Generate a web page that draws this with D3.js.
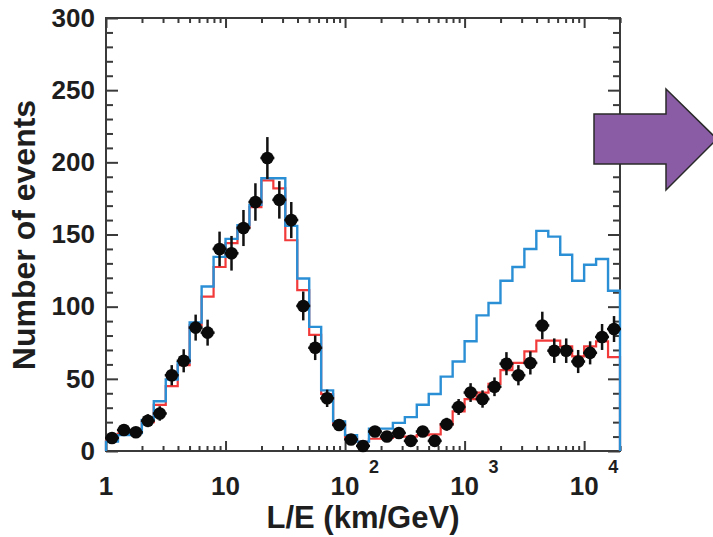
<!DOCTYPE html>
<html>
<head>
<meta charset="utf-8">
<script src="https://cdn.jsdelivr.net/npm/d3@7"></script>
<style>
  body { margin: 0; background: #fff; }
  svg { display: block; }
  text { font-family: "Liberation Sans", Arial, sans-serif; font-weight: bold; fill: #1e1e1e; }
</style>
</head>
<body>
<svg id="chart" width="713" height="537"></svg>
<script>
// bin edges, in log10(L/E) units (10 bins per decade)
var binEdgesLog = [0.0, 0.1, 0.2, 0.3, 0.4, 0.5, 0.6, 0.7, 0.8, 0.9,
                   1.0, 1.1, 1.2, 1.3, 1.4, 1.5, 1.6, 1.7, 1.8, 1.9,
                   2.0, 2.1, 2.2, 2.3, 2.4, 2.5, 2.6, 2.7, 2.8, 2.9,
                   3.0, 3.1, 3.2, 3.3, 3.4, 3.5, 3.6, 3.7, 3.8, 3.9,
                   4.0, 4.1, 4.2, 4.3];

// observed events (black points) and their errors
var dataEvents = [9, 14.5, 13, 21, 26, 52.5, 62.5, 85.5, 82, 140,
                  137, 154.5, 172.5, 203, 174, 160, 100.5, 71.5, 36.5, 18,
                  8, 3.5, 13.5, 10, 12.5, 7, 13.5, 7, 18.5, 30.5,
                  40.5, 36, 44.5, 60.5, 52.5, 61, 87, 69.5, 69.5, 62,
                  68, 79, 84.5];
var dataErrors = [3, 4, 3.5, 4.5, 5, 7, 8, 9, 9, 12,
                  12, 12.5, 13, 14.5, 13, 12.5, 10, 8.5, 6, 4,
                  3, 2, 3.5, 3, 3.5, 2.5, 3.5, 2.5, 4.5, 5.5,
                  6.5, 6, 6.5, 8, 7, 8, 9.5, 8.5, 8.5, 8,
                  8, 9, 9];

// red histogram (with oscillation)
var oscMC = [7, 12, 13, 20, 32, 45, 59.5, 87, 107, 127.5,
             144, 155, 169, 187.5, 182, 146, 111.5, 80.5, 39.5, 19,
             9.5, 6.5, 8.5, 9, 10, 10, 11, 11.5, 18.5, 27.5,
             36, 40.5, 46.5, 56, 61, 69, 76.5, 76.5, 72.5, 65.5,
             72.5, 76, 65];

// blue histogram (no oscillation)
var noOscMC = [6.5, 11, 12.5, 21.5, 34.5, 49.5, 61.5, 89, 114, 134.5,
               147, 156.5, 170.5, 189, 189, 156, 119.5, 86, 42, 20.5,
               11, 6.5, 15.5, 15.5, 19.5, 23.5, 32, 39.5, 51.5, 62,
               76, 94, 102.5, 118, 127.5, 140, 152.5, 148.5, 136, 118,
               129, 133, 111];

var yTicks = [0, 50, 100, 150, 200, 250, 300];
var yMinorTicks = [10, 20, 30, 40, 60, 70, 80, 90, 110, 120, 130, 140, 160, 170, 180, 190,
                   210, 220, 230, 240, 260, 270, 280, 290];
var xTicks = [1, 10, 100, 1000, 10000];
var xTickBase = ["1", "10", "10", "10", "10"];
var xTickExp = ["", "", "2", "3", "4"];
var xMinorTicks = [2, 3, 4, 5, 6, 7, 8, 9, 20, 30, 40, 50, 60, 70, 80, 90,
                   200, 300, 400, 500, 600, 700, 800, 900, 2000, 3000, 4000, 5000, 6000, 7000, 8000, 9000, 20000];

var plotL = 106, plotR = 620, plotT = 18, plotB = 451;
var svg = d3.select("#chart");

var x = d3.scaleLog().domain([1, Math.pow(10, 4.3)]).range([plotL, plotR]);
var y = d3.scaleLinear().domain([0, 300]).range([plotB, plotT]);

function edge(i) { return Math.pow(10, binEdgesLog[i]); }
function center(i) { return Math.pow(10, (binEdgesLog[i] + binEdgesLog[i + 1]) / 2); }

// ticks (inside the frame, on all four sides)
function styleAxis(g) {
  g.select(".domain").remove();
  g.selectAll(".tick line").attr("stroke", "#3a3a3a").attr("stroke-width", 2);
}
svg.append("g").attr("transform", "translate(" + plotL + ",0)")
  .call(d3.axisLeft(y).tickValues(yTicks).tickSizeInner(-12).tickSizeOuter(0).tickPadding(11))
  .call(styleAxis)
  .selectAll("text").attr("font-size", 26).attr("font-family", null).attr("fill", "#1e1e1e");
svg.append("g").attr("transform", "translate(" + plotL + ",0)")
  .call(d3.axisLeft(y).tickValues(yMinorTicks).tickSizeInner(-7).tickSizeOuter(0).tickFormat(""))
  .call(styleAxis);
svg.append("g").attr("transform", "translate(" + plotR + ",0)")
  .call(d3.axisRight(y).tickValues(yTicks).tickSizeInner(-12).tickSizeOuter(0).tickFormat(""))
  .call(styleAxis);
svg.append("g").attr("transform", "translate(" + plotR + ",0)")
  .call(d3.axisRight(y).tickValues(yMinorTicks).tickSizeInner(-7).tickSizeOuter(0).tickFormat(""))
  .call(styleAxis);
svg.append("g").attr("transform", "translate(0," + plotB + ")")
  .call(d3.axisBottom(x).tickValues(xTicks).tickSizeInner(-10).tickSizeOuter(0).tickFormat(""))
  .call(styleAxis);
svg.append("g").attr("transform", "translate(0," + plotB + ")")
  .call(d3.axisBottom(x).tickValues(xMinorTicks).tickSizeInner(-5).tickSizeOuter(0).tickFormat(""))
  .call(styleAxis);
svg.append("g").attr("transform", "translate(0," + plotT + ")")
  .call(d3.axisTop(x).tickValues(xTicks).tickSizeInner(-10).tickSizeOuter(0).tickFormat(""))
  .call(styleAxis);
svg.append("g").attr("transform", "translate(0," + plotT + ")")
  .call(d3.axisTop(x).tickValues(xMinorTicks).tickSizeInner(-5).tickSizeOuter(0).tickFormat(""))
  .call(styleAxis);

// x tick labels with superscripts
xTicks.forEach(function(v, i) {
  svg.append("text").attr("x", x(v)).attr("y", 495)
    .attr("text-anchor", "middle").attr("font-size", 26).text(xTickBase[i]);
  if (xTickExp[i]) {
    svg.append("text").attr("x", x(v) + 24).attr("y", 473)
      .attr("text-anchor", "start").attr("font-size", 18).attr("font-weight", "normal")
      .text(xTickExp[i]);
  }
});

// frame
svg.append("rect").attr("x", plotL).attr("y", plotT)
  .attr("width", plotR - plotL).attr("height", plotB - plotT)
  .attr("fill", "none").attr("stroke", "#3a3a3a").attr("stroke-width", 2);

// step histograms
function stepPath(vals) {
  var p = "M" + x(edge(0)) + "," + y(0);
  vals.forEach(function(v, i) {
    p += "V" + y(v) + "H" + x(edge(i + 1));
  });
  return p + "V" + y(0);
}
svg.append("path").attr("d", stepPath(oscMC))
  .attr("fill", "none").attr("stroke", "#f23a3a").attr("stroke-width", 2.2);
svg.append("path").attr("d", stepPath(noOscMC))
  .attr("fill", "none").attr("stroke", "#2b8fd6").attr("stroke-width", 2.4);

// data points
var pts = svg.append("g");
dataEvents.forEach(function(v, i) {
  var cx = x(center(i));
  pts.append("line").attr("x1", cx).attr("x2", cx)
    .attr("y1", y(v - dataErrors[i])).attr("y2", y(v + dataErrors[i]))
    .attr("stroke", "#111").attr("stroke-width", 2.5);
  pts.append("line").attr("x1", cx - 7).attr("x2", cx + 7)
    .attr("y1", y(v)).attr("y2", y(v))
    .attr("stroke", "#111").attr("stroke-width", 2.5);
  pts.append("circle").attr("cx", cx).attr("cy", y(v)).attr("r", 6.3).attr("fill", "#0a0a0a");
});

// axis titles
svg.append("text").attr("transform", "translate(35,235) rotate(-90)")
  .attr("text-anchor", "middle").attr("font-size", 32).text("Number of events");
svg.append("text").attr("x", 363).attr("y", 528)
  .attr("text-anchor", "middle").attr("font-size", 31).text("L/E (km/GeV)");

// purple arrow on the right
svg.append("path")
  .attr("d", "M594,114 H666 V89 L717,139 L666,190 V164 H594 Z")
  .attr("fill", "#8a5ca6").attr("stroke", "#2a2a2a").attr("stroke-width", 1.5);
</script>
</body>
</html>
